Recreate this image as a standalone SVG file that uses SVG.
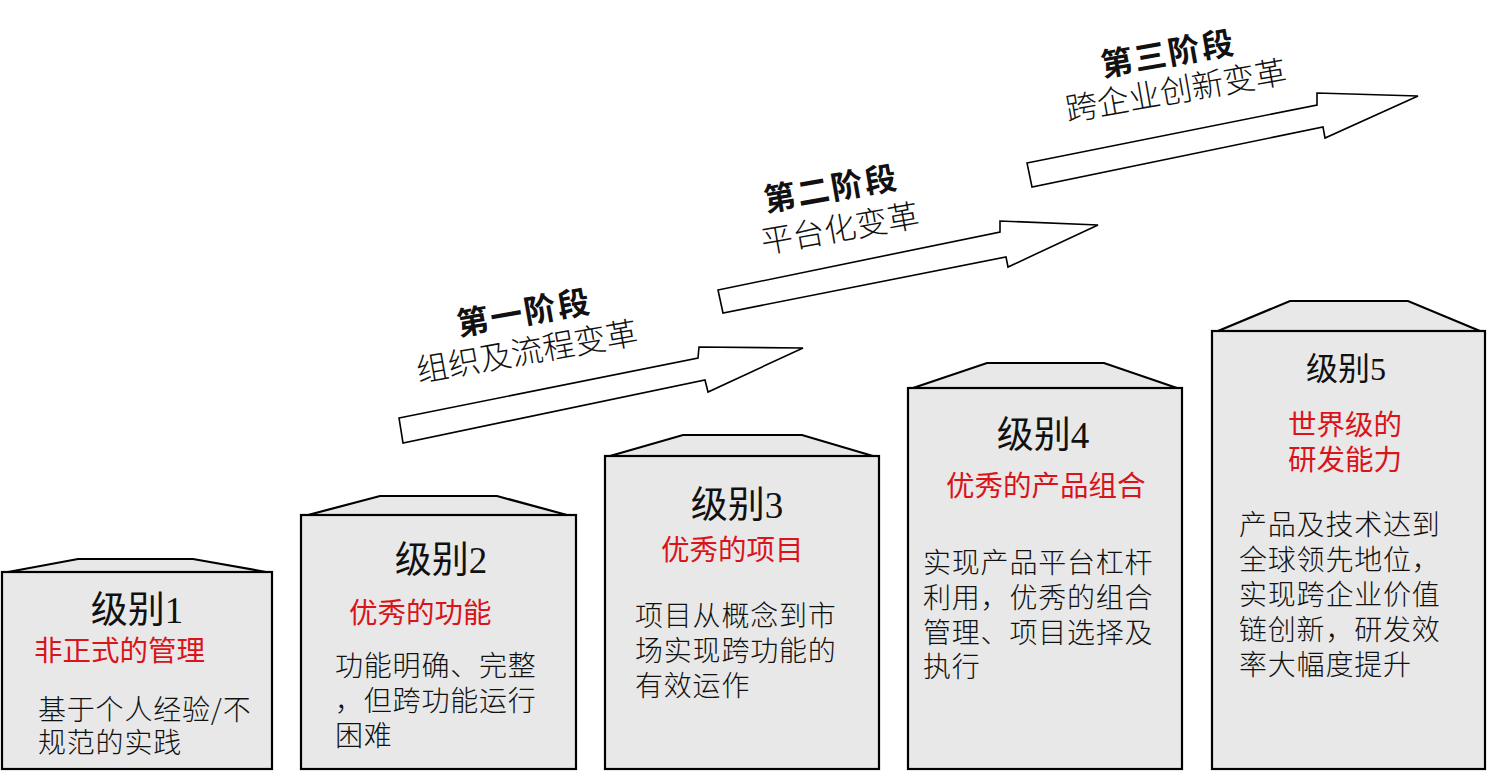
<svg xmlns="http://www.w3.org/2000/svg" width="1488" height="778" viewBox="0 0 1488 778">
<style>
.box{fill:#e8e8e8;stroke:#000;stroke-width:2.2}
.roof{fill:#e8e8e8;stroke:#000;stroke-width:2.2;stroke-linejoin:miter}
.arrow{fill:#fff;stroke:#000;stroke-width:1.6;stroke-linejoin:miter}
.lvl{font-family:"Liberation Serif","Noto Sans CJK SC",serif;font-size:37px;fill:#111;text-anchor:middle}
.lvl5{font-size:32px}
.red{font-family:"Noto Sans CJK SC","Noto Sans",sans-serif;font-size:28.5px;fill:#d9141b}
.body{font-family:"Noto Sans CJK SC","Noto Sans",sans-serif;font-size:28px;font-weight:300;letter-spacing:0.8px;fill:#111}
.st1{font-family:"Noto Sans CJK SC","Noto Sans",sans-serif;font-size:32px;font-weight:600;letter-spacing:2px;fill:#111;text-anchor:middle}
.st2{font-family:"Noto Sans CJK SC","Noto Sans",sans-serif;font-size:32px;font-weight:300;fill:#111;text-anchor:middle}
</style>
<rect width="1488" height="778" fill="#fff"/>
<g id="connectors">
<polygon class="arrow" points="399,418 698,358 699,347 803,348 708,392 705,380 403,443"/>
<polygon class="arrow" points="718,290 1000,232 1000,221 1098,225 1008,267 1006,257 723,313"/>
<polygon class="arrow" points="1027,163 1317,105 1317,93 1418,96 1325,138 1323,127 1032,187"/>
</g>
<g id="stage1">
<g transform="translate(524,312) rotate(-10)"><text class="st1" x="0" y="12">第一阶段</text></g>
<g transform="translate(527,351) rotate(-10)"><text class="st2" x="0" y="12">组织及流程变革</text></g>
</g>
<g id="stage2">
<g transform="translate(831,188) rotate(-10)"><text class="st1" x="0" y="12">第二阶段</text></g>
<g transform="translate(840,228) rotate(-10)"><text class="st2" x="0" y="12">平台化变革</text></g>
</g>
<g id="stage3">
<g transform="translate(1168,53) rotate(-10)"><text class="st1" x="0" y="12">第三阶段</text></g>
<g transform="translate(1176,90) rotate(-10)"><text class="st2" x="0" y="12">跨企业创新变革</text></g>
</g>
<g id="level1">
<polygon class="roof" points="8,572 78,559 193,559 266,572"/>
<rect class="box" x="2" y="572" width="270" height="197"/>
<text class="lvl" x="137" y="623">级别1</text>
<text class="red" x="34" y="661">非正式的管理</text>
<text class="body" x="38" y="720">基于个人经验/不</text>
<text class="body" x="38" y="753">规范的实践</text>
</g>
<g id="level2">
<polygon class="roof" points="308,515 380,496 497,496 567,515"/>
<rect class="box" x="301" y="515" width="275" height="254"/>
<text class="lvl" x="441" y="573">级别2</text>
<text class="red" x="349" y="623">优秀的功能</text>
<text class="body" x="335" y="676">功能明确、完整</text>
<text class="body" x="335" y="711">，但跨功能运行</text>
<text class="body" x="335" y="746">困难</text>
</g>
<g id="level3">
<polygon class="roof" points="610,456 683,435 802,435 873,456"/>
<rect class="box" x="605" y="456" width="274" height="313"/>
<text class="lvl" x="737" y="518">级别3</text>
<text class="red" x="661" y="560">优秀的项目</text>
<text class="body" x="635" y="626">项目从概念到市</text>
<text class="body" x="635" y="661">场实现跨功能的</text>
<text class="body" x="635" y="696">有效运作</text>
</g>
<g id="level4">
<polygon class="roof" points="913,388 987,363 1104,363 1177,388"/>
<rect class="box" x="908" y="388" width="274" height="381"/>
<text class="lvl" x="1043" y="448">级别4</text>
<text class="red" x="946" y="496">优秀的产品组合</text>
<text class="body" x="923" y="573">实现产品平台杠杆</text>
<text class="body" x="923" y="608">利用，优秀的组合</text>
<text class="body" x="923" y="643">管理、项目选择及</text>
<text class="body" x="923" y="677">执行</text>
</g>
<g id="level5">
<polygon class="roof" points="1218,331 1290,301 1408,301 1480,331"/>
<rect class="box" x="1212" y="331" width="273" height="438"/>
<text class="lvl lvl5" x="1346" y="380">级别5</text>
<text class="red" x="1345" y="435" text-anchor="middle">世界级的</text>
<text class="red" x="1345" y="470" text-anchor="middle">研发能力</text>
<text class="body" x="1239" y="535">产品及技术达到</text>
<text class="body" x="1239" y="570">全球领先地位，</text>
<text class="body" x="1239" y="605">实现跨企业价值</text>
<text class="body" x="1239" y="640">链创新，研发效</text>
<text class="body" x="1239" y="675">率大幅度提升</text>
</g>
</svg>
